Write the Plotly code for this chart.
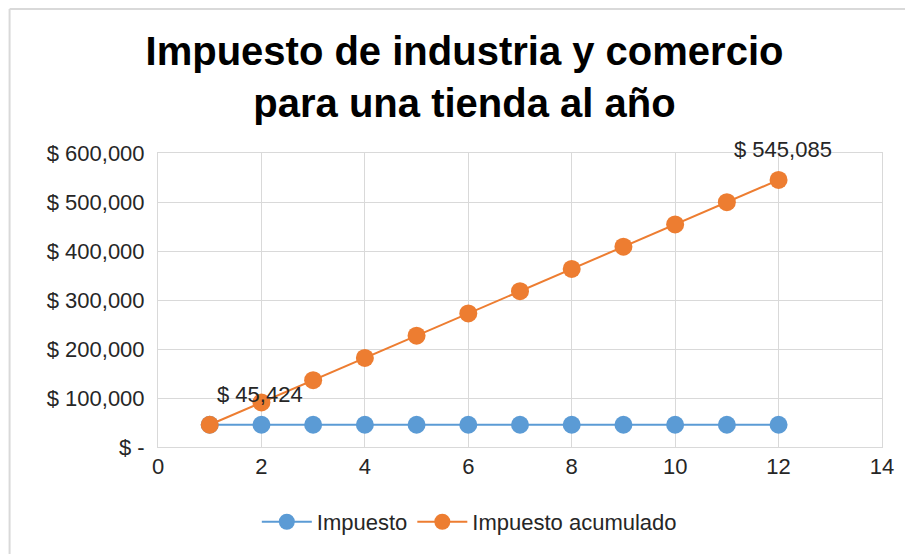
import plotly.graph_objects as go

meses = [1, 2, 3, 4, 5, 6, 7, 8, 9, 10, 11, 12]
impuesto = [45424, 45424, 45423, 45424, 45424, 45424, 45423, 45424, 45424, 45424, 45423, 45424]
acumulado = [45424, 90848, 136271, 181695, 227119, 272543, 317966, 363390, 408814, 454238, 499661, 545085]
y_ticks = [0, 100000, 200000, 300000, 400000, 500000, 600000]
y_labels = ["$ -", "$ 100,000", "$ 200,000", "$ 300,000", "$ 400,000", "$ 500,000", "$ 600,000"]

AZUL = "#5B9BD5"
NARANJA = "#ED7D31"
FONT = "Liberation Sans, Arial, sans-serif"

fig = go.Figure()
fig.add_trace(go.Scatter(
    x=meses, y=impuesto, mode="lines+markers", name="Impuesto",
    line=dict(color=AZUL, width=2),
    marker=dict(color=AZUL, size=18),
))
fig.add_trace(go.Scatter(
    x=meses, y=acumulado, mode="lines+markers", name="Impuesto acumulado",
    line=dict(color=NARANJA, width=2),
    marker=dict(color=NARANJA, size=18),
))

# etiquetas de datos (primer y ultimo valor acumulado)
fig.add_annotation(x=meses[1] - 0.02, y=acumulado[0], text=f"$ {acumulado[0]:,}",
                   showarrow=False, yshift=30, font=dict(size=22, color="#262626", family=FONT))
fig.add_annotation(x=meses[-1] + 0.08, y=acumulado[-1], text=f"$ {acumulado[-1]:,}",
                   showarrow=False, yshift=30, font=dict(size=22, color="#262626", family=FONT))

# marco del grafico
fig.add_shape(type="line", xref="paper", yref="paper", x0=-0.205, x1=1.1, y0=1.49, y1=1.49,
              line=dict(color="#d9d9d9", width=2))
fig.add_shape(type="line", xref="paper", yref="paper", x0=-0.205, x1=-0.205, y0=1.49, y1=-0.4,
              line=dict(color="#d9d9d9", width=2))

fig.update_layout(
    title=dict(
        text="<b>Impuesto de industria y comercio<br>para una tienda al año</b>",
        x=0.5, xanchor="center", y=0.897, yanchor="middle",
        font=dict(size=40, color="#000000", family=FONT),
    ),
    width=913, height=554,
    margin=dict(l=150, r=39, t=145, b=115),
    paper_bgcolor="white", plot_bgcolor="white",
    font=dict(family=FONT, size=21, color="#262626"),
    xaxis=dict(
        range=[0, 14], tickvals=[0, 2, 4, 6, 8, 10, 12, 14],
        showgrid=True, gridcolor="#d9d9d9", gridwidth=1,
        showline=True, linecolor="#d9d9d9", mirror=True,
        zeroline=False, ticks="", tickfont=dict(size=22),
    ),
    yaxis=dict(
        range=[0, 600000], tickvals=y_ticks, ticktext=y_labels,
        showgrid=True, gridcolor="#d9d9d9", gridwidth=1,
        showline=True, linecolor="#d9d9d9", mirror=True,
        zeroline=False, ticks="", tickfont=dict(size=22), ticklabelstandoff=8,
    ),
    legend=dict(
        orientation="h", x=0.43, xanchor="center", y=-0.255, yanchor="middle",
        font=dict(size=22), itemwidth=50,
    ),
    showlegend=True,
)

fig.write_html("out.html")
